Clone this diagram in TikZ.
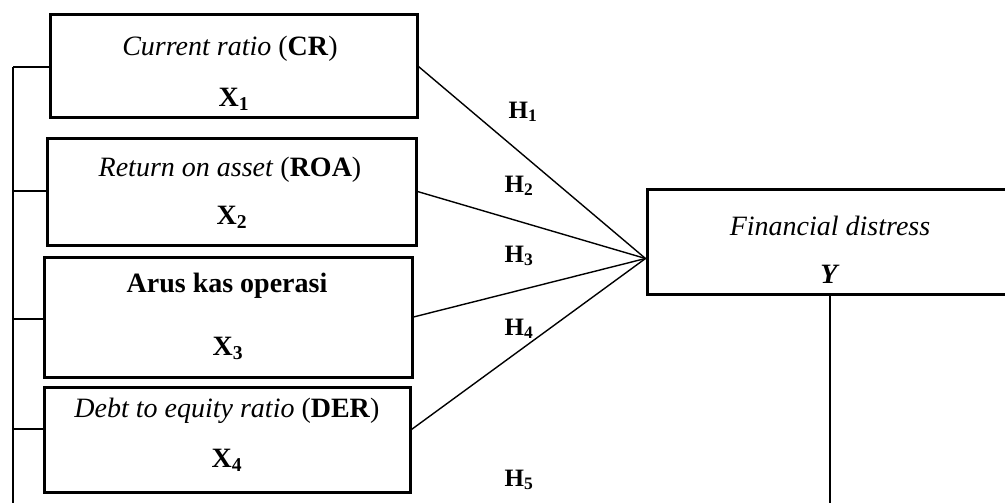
\documentclass[tikz,border=0pt]{standalone}
\usepackage{fontspec}
\setmainfont{Liberation Serif}
\begin{document}
\begin{tikzpicture}[x=1pt,y=-1pt,
  box/.style={draw, line width=3pt, rectangle, inner sep=0pt},
  conn/.style={line width=1.4pt},
  txt/.style={font=\fontsize{28}{33}\selectfont, inner sep=0pt, text depth=0pt, anchor=center},
  hlab/.style={font=\fontsize{25}{30}\selectfont\bfseries, inner sep=0pt, text depth=0pt, anchor=center}]
\useasboundingbox (0,0) rectangle (1005,503);
\clip (0,0) rectangle (1005,503);
% boxes
\node[box, minimum width=367pt, minimum height=103pt] (b1) at (233.5,66.5) {};
\node[box, minimum width=369pt, minimum height=107pt] (b2) at (231.5,191.5) {};
\node[box, minimum width=368pt, minimum height=120pt] (b3) at (228,317) {};
\node[box, minimum width=366pt, minimum height=105pt] (b4) at (227,439.5) {};
\node[box, minimum width=367pt, minimum height=105pt] (yb) at (830.5,241.5) {};
% box texts
\node[txt] (t1a) at (230,46) {\textit{Current ratio} (\textbf{CR})};
\node[txt] (t1b) at (234,97) {\textbf{X\textsubscript{1}}};
\node[txt] (t2a) at (230,167) {\textit{Return on asset} (\textbf{ROA})};
\node[txt] (t2b) at (232,215) {\textbf{X\textsubscript{2}}};
\node[txt] (t3a) at (227,283) {\textbf{Arus kas operasi}};
\node[txt] (t3b) at (228,346) {\textbf{X\textsubscript{3}}};
\node[txt] (t4a) at (227,408) {\textit{Debt to equity ratio} (\textbf{DER})};
\node[txt] (t4b) at (227,458) {\textbf{X\textsubscript{4}}};
\node[txt] (tya) at (830,226) {\textit{Financial distress}};
\node[txt] (tyb) at (830,274) {\textbf{\textit{Y}}};
% hypothesis labels
\node[hlab] (h1) at (523,110) {H\textsubscript{1}};
\node[hlab] (h2) at (519,184) {H\textsubscript{2}};
\node[hlab] (h3) at (519,254) {H\textsubscript{3}};
\node[hlab] (h4) at (519,327) {H\textsubscript{4}};
\node[hlab] (h5) at (519,478) {H\textsubscript{5}};
% convergence point and free ends
\coordinate (conv) at ([yshift=-17pt]yb.west);
\coordinate (ltop) at (13,67);
\coordinate (lbot) at (13,503);
\coordinate (ybot) at (830,503);
% connectors
\draw[conn] (b1.east) -- (conv);
\draw[conn] (b2.east) -- (conv);
\draw[conn] (b3.east) -- (conv);
\draw[conn] ([yshift=10pt]b4.east) -- (conv);
\draw[conn] (yb.south -| ybot) -- (ybot);
\draw[conn] (ltop) -- (lbot);
\draw[conn] (ltop) -- (b1.west |- ltop);
\draw[conn] (13,191) -- (b2.west |- 0,191);
\draw[conn] (13,319) -- (b3.west |- 0,319);
\draw[conn] (13,429) -- (b4.west |- 0,429);
\end{tikzpicture}
\end{document}
